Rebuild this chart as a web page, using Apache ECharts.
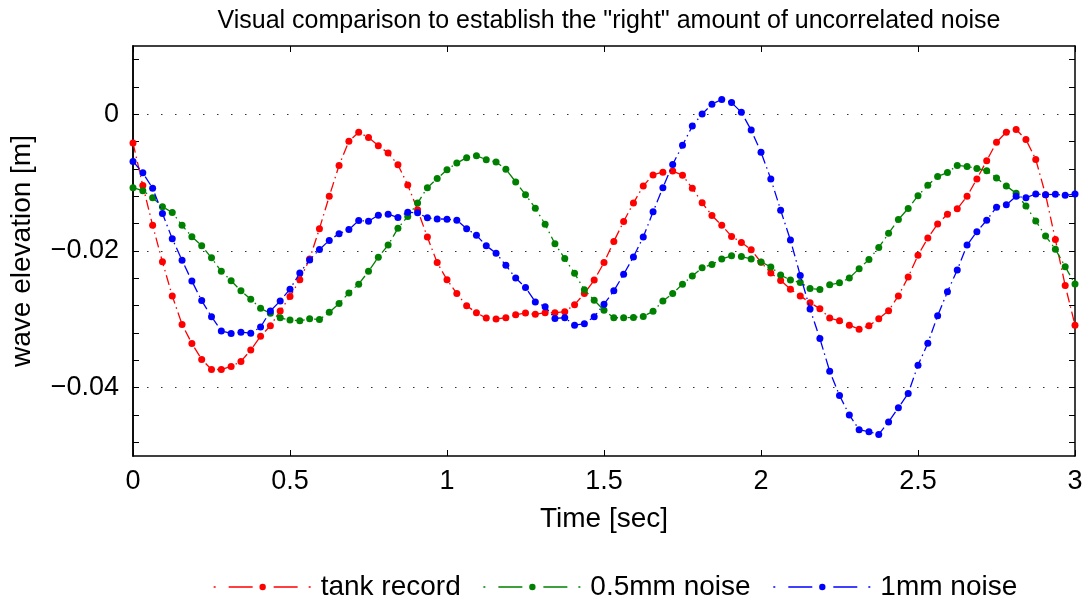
<!DOCTYPE html>
<html><head><meta charset="utf-8">
<script src="https://cdn.jsdelivr.net/npm/echarts@6/dist/echarts.min.js"></script>
<style>html,body{margin:0;padding:0;background:#fff}#c{width:1090px;height:608px}</style>
</head><body><div id="c"></div>
<script>
var titleText = 'Visual comparison to establish the "right" amount of uncorrelated noise';
var xName = 'Time [sec]';
var yName = 'wave elevation [m]';
var seriesNames = ['tank record', '0.5mm noise', '1mm noise'];
var seriesColors = ['#ff0000', '#008000', '#0000ff'];
var dt = 1 / 32; // sample spacing [s]
var xTicks = [0, 0.5, 1, 1.5, 2, 2.5, 3];
var yLabelTicks = [-0.04, -0.02, 0];
var yMinorTicks = [-0.048, -0.044, -0.04, -0.036, -0.032, -0.028, -0.024, -0.02, -0.016, -0.012, -0.008, -0.004, 0, 0.004, 0.008];

var tankRecord = [-0.00418,-0.01043,-0.01624,-0.02159,-0.02657,-0.03074,-0.03355,-0.03587,-0.03734,-0.03734,
-0.0369,-0.03616,-0.03449,-0.03247,-0.03095,-0.02878,-0.02667,-0.02421,-0.02116,-0.01673,
-0.012,-0.00748,-0.00394,-0.00261,-0.0034,-0.00458,-0.00566,-0.00738,-0.01033,-0.01397,
-0.01796,-0.0217,-0.02421,-0.02623,-0.028,-0.02903,-0.02982,-0.02996,-0.02977,-0.02933,
-0.02908,-0.02927,-0.02903,-0.02903,-0.02888,-0.02785,-0.02623,-0.02425,-0.0217,-0.0186,
-0.01569,-0.01299,-0.01048,-0.00886,-0.00846,-0.00831,-0.0089,-0.01082,-0.01294,-0.01481,
-0.01624,-0.01786,-0.01875,-0.01982,-0.02165,-0.02322,-0.02431,-0.02558,-0.02657,-0.02756,
-0.02844,-0.02982,-0.03021,-0.03085,-0.03144,-0.03095,-0.02992,-0.02874,-0.02657,-0.02381,
-0.02062,-0.01811,-0.01604,-0.01461,-0.01383,-0.012,-0.00945,-0.00679,-0.00409,-0.00261,
-0.00221,-0.00369,-0.0066,-0.01176,-0.01833,-0.02505,-0.03085];

var noise05 = [-0.01073,-0.01117,-0.0122,-0.01353,-0.01436,-0.01624,-0.0179,-0.01923,-0.021,-0.02298,
-0.02435,-0.02583,-0.02706,-0.02838,-0.02912,-0.02977,-0.03011,-0.03021,-0.02992,-0.03001,
-0.02898,-0.0277,-0.02613,-0.02485,-0.02298,-0.02091,-0.01914,-0.01668,-0.01495,-0.01299,
-0.01073,-0.0094,-0.00812,-0.00713,-0.00635,-0.00605,-0.00664,-0.00698,-0.00802,-0.00989,
-0.01176,-0.01373,-0.01609,-0.01894,-0.02111,-0.02327,-0.02568,-0.0272,-0.02868,-0.02977,
-0.02977,-0.02972,-0.02957,-0.02883,-0.02731,-0.02623,-0.02485,-0.02366,-0.02244,-0.02199,
-0.02116,-0.02071,-0.02081,-0.02116,-0.0216,-0.02233,-0.02352,-0.02425,-0.0246,-0.02549,
-0.02563,-0.02494,-0.02465,-0.02396,-0.02258,-0.02125,-0.01948,-0.01742,-0.0154,-0.01377,
-0.01191,-0.01038,-0.0091,-0.00852,-0.00748,-0.00763,-0.00792,-0.00827,-0.0093,-0.01048,
-0.01156,-0.01343,-0.0156,-0.01781,-0.01973,-0.02229,-0.02484];

var noise1 = [-0.00689,-0.00856,-0.01082,-0.01451,-0.0182,-0.02136,-0.0244,-0.02726,-0.02962,-0.03169,
-0.03207,-0.03188,-0.03203,-0.03114,-0.02878,-0.02731,-0.02558,-0.02322,-0.0213,-0.01978,
-0.01845,-0.01746,-0.01687,-0.01554,-0.01565,-0.01476,-0.01461,-0.0151,-0.01432,-0.01442,
-0.01515,-0.0153,-0.01535,-0.0155,-0.01673,-0.01771,-0.01923,-0.02032,-0.0221,-0.02396,
-0.02534,-0.02745,-0.02815,-0.02986,-0.02977,-0.03085,-0.03066,-0.02962,-0.02779,-0.02583,
-0.02342,-0.02086,-0.01796,-0.01427,-0.01073,-0.00733,-0.00453,-0.00172,0.00005,0.00148,
0.00217,0.00172,0.0003,-0.00231,-0.00556,-0.00945,-0.01402,-0.0184,-0.02357,-0.02849,
-0.03281,-0.03759,-0.04114,-0.04399,-0.04615,-0.04645,-0.04684,-0.04502,-0.04295,-0.04084,
-0.03671,-0.03351,-0.02947,-0.02598,-0.02278,-0.01914,-0.01717,-0.0155,-0.01358,-0.01324,
-0.012,-0.0122,-0.01166,-0.01176,-0.01171,-0.01185,-0.01166];

function pairs(vals) {
  return vals.map(function (v, i) { return [i * dt, v]; });
}
function fmtY(v) {
  if (Math.abs(v) < 1e-12) return '0';
  return (v < 0 ? '\u2212' : '') + Math.abs(v).toFixed(2);
}

var FONT = 'Liberation Sans';
var LABEL_SIZE = 27;
var NAME_SIZE = 28;
var axisLineStyle = { color: '#000', width: 1.5 };
var tickStyle = { show: true, inside: true, length: 6, lineStyle: { color: '#000', width: 1 } };

var chart = echarts.init(document.getElementById('c'), null, { renderer: 'canvas' });
var allData = [tankRecord, noise05, noise1];
var series = allData.map(function (vals, k) {
  return {
    name: seriesNames[k],
    type: 'line',
    xAxisIndex: 0,
    yAxisIndex: 0,
    data: pairs(vals),
    symbol: 'circle',
    symbolSize: 7,
    showSymbol: true,
    animation: false,
    color: seriesColors[k],
    itemStyle: { color: seriesColors[k] },
    lineStyle: { color: seriesColors[k], width: 1.3, type: [10, 4, 1.5, 4] },
    z: 3 + k
  };
});

var legendData = seriesNames.map(function (n, k) {
  return {
    name: n,
    lineStyle: { color: seriesColors[k], width: 1.3, type: [2, 13, 24, 21, 24, 11, 2, 20] }
  };
});

chart.setOption({
  animation: false,
  backgroundColor: '#fff',
  textStyle: { fontFamily: FONT, color: '#000' },
  title: {
    text: titleText,
    left: 604, top: 4, textAlign: 'center',
    textStyle: { fontFamily: FONT, fontSize: 25, fontWeight: 'normal', color: '#000' }
  },
  legend: {
    bottom: 2, left: 208,
    itemWidth: 98, itemHeight: 8, itemGap: 22,
    textStyle: { fontFamily: FONT, fontSize: NAME_SIZE, color: '#000', padding: [0, 0, 0, 4] },
    data: legendData
  },
  grid: { left: 133, right: 15, top: 46, bottom: 152, containLabel: false, show: false },
  xAxis: [
    {
      type: 'value', position: 'bottom', min: 0, max: 3, interval: 0.5,
      name: xName, nameLocation: 'middle', nameGap: 49,
      nameTextStyle: { fontFamily: FONT, fontSize: NAME_SIZE, color: '#000' },
      axisLine: { show: true, onZero: false, lineStyle: axisLineStyle },
      axisTick: tickStyle,
      axisLabel: { fontFamily: FONT, fontSize: LABEL_SIZE, color: '#000', margin: 12,
        customValues: xTicks, formatter: function (v) { return String(v); } },
      splitLine: { show: false }
    },
    {
      type: 'value', position: 'top', min: 0, max: 3, interval: 0.5,
      axisLine: { show: true, onZero: false, lineStyle: axisLineStyle },
      axisTick: tickStyle,
      axisLabel: { show: false },
      splitLine: { show: false }
    }
  ],
  yAxis: [
    {
      type: 'value', position: 'left', min: -0.05, max: 0.01,
      name: yName, nameLocation: 'middle', nameGap: 97, nameRotate: 90,
      nameTextStyle: { fontFamily: FONT, fontSize: NAME_SIZE, color: '#000' },
      axisLine: { show: true, onZero: false, lineStyle: axisLineStyle },
      axisTick: { show: false, customValues: yLabelTicks },
      axisLabel: { fontFamily: FONT, fontSize: LABEL_SIZE, color: '#000', margin: 14,
        customValues: yLabelTicks, formatter: fmtY },
      splitLine: { show: true, lineStyle: { color: '#333', width: 1, type: [1.5, 12.5] } }
    },
    {
      type: 'value', position: 'left', min: -0.05, max: 0.01,
      axisLine: { show: true, onZero: false, lineStyle: axisLineStyle },
      axisTick: { show: true, inside: true, length: 6, customValues: yMinorTicks, lineStyle: { color: '#000', width: 1 } },
      axisLabel: { show: false, customValues: yMinorTicks },
      splitLine: { show: false }
    },
    {
      type: 'value', position: 'right', min: -0.05, max: 0.01,
      axisLine: { show: true, onZero: false, lineStyle: axisLineStyle },
      axisTick: { show: true, inside: true, length: 6, customValues: yMinorTicks, lineStyle: { color: '#000', width: 1 } },
      axisLabel: { show: false, customValues: yMinorTicks },
      splitLine: { show: false }
    }
  ],
  series: series
});
</script></body></html>
